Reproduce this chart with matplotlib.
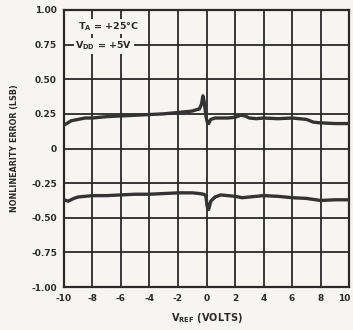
import matplotlib
matplotlib.use("Agg")
import matplotlib.pyplot as plt
from matplotlib.transforms import ScaledTranslation

upper_x = [-10, -9.8, -9.5, -9, -8.5, -8, -7, -6, -5, -4, -3, -2, -1.5, -1, -0.7, -0.5, -0.35,
           -0.25, -0.15, -0.05, 0.05, 0.15, 0.3, 0.6, 1, 1.5, 2, 2.4, 2.7, 3, 3.5, 4, 5, 6,
           6.5, 7, 7.5, 8, 9, 10]
upper_y = [0.17, 0.18, 0.20, 0.21, 0.22, 0.22, 0.23, 0.235, 0.24, 0.245, 0.25, 0.26, 0.265,
           0.27, 0.28, 0.285, 0.32, 0.38, 0.33, 0.24, 0.19, 0.18, 0.21, 0.22, 0.22, 0.22,
           0.225, 0.24, 0.235, 0.22, 0.215, 0.22, 0.215, 0.22, 0.215, 0.21, 0.19, 0.185,
           0.18, 0.18]
lower_x = [-10, -9.7, -9.3, -9, -8, -7, -6, -5, -4, -3, -2, -1, -0.5, -0.2, -0.05, 0.05,
           0.15, 0.3, 0.6, 1, 1.5, 2, 2.5, 3, 4, 5, 6, 7, 8, 9, 10]
lower_y = [-0.37, -0.38, -0.36, -0.35, -0.34, -0.34, -0.335, -0.33, -0.33, -0.325, -0.32,
           -0.32, -0.325, -0.33, -0.34, -0.42, -0.44, -0.38, -0.35, -0.335, -0.34, -0.345,
           -0.355, -0.35, -0.34, -0.345, -0.355, -0.36, -0.375, -0.37, -0.37]

x_ticks = [-10, -8, -6, -4, -2, 0, 2, 4, 6, 8, 10]
x_labels = ["-10", "-8", "-6", "-4", "-2", "0", "2", "4", "6", "8", "10"]
y_ticks = [1.0, 0.75, 0.5, 0.25, 0, -0.25, -0.5, -0.75, -1.0]
y_labels = ["1.00", "0.75", "0.50", "0.25", "0", "-0.25", "-0.50", "-0.75", "-1.00"]

ink = "#2a2a2a"
fig = plt.figure(figsize=(3.53, 3.30), dpi=100, facecolor="#f6f5f1")
ax = fig.add_axes([0.181, 0.130, 0.808, 0.840])
ax.set_facecolor("#f6f5f1")
ax.set_xlim(-10, 10)
ax.set_ylim(-1.0, 1.0)
ax.set_xticks(x_ticks)
ax.set_xticklabels(x_labels)
ax.set_yticks(y_ticks)
ax.set_yticklabels(y_labels)
ax.tick_params(length=0, labelsize=6.5, colors=ink, pad=5)
for lab in ax.get_xticklabels() + ax.get_yticklabels():
    lab.set_fontweight("bold")
last = ax.get_xticklabels()[-1]
last.set_transform(last.get_transform() + ScaledTranslation(-5 / 100, 0, fig.dpi_scale_trans))
ax.grid(True, color=ink, linewidth=1.3)
for s in ax.spines.values():
    s.set_color(ink)
    s.set_linewidth(1.6)

ax.plot(upper_x, upper_y, color="#333333", linewidth=2.4, zorder=3)
ax.plot(lower_x, lower_y, color="#333333", linewidth=2.4, zorder=3)

ax.text(-9.0, 0.86, r"T$_\mathregular{A}$ = +25°C", fontsize=6.8, fontweight="bold",
        color=ink, bbox=dict(facecolor="#f6f5f1", edgecolor="none", pad=1), zorder=4)
ax.text(-9.2, 0.72, r"V$_\mathregular{DD}$ = +5V", fontsize=6.8, fontweight="bold",
        color=ink, bbox=dict(facecolor="#f6f5f1", edgecolor="none", pad=1), zorder=4)

ax.set_ylabel("NONLINEARITY ERROR (LSB)", fontsize=5.8, fontweight="bold", color=ink, labelpad=9)
ax.set_xlabel(r"V$_\mathregular{REF}$ (VOLTS)", fontsize=7, fontweight="bold", color=ink, labelpad=6)

fig.savefig("out.png", dpi=100, facecolor=fig.get_facecolor())
